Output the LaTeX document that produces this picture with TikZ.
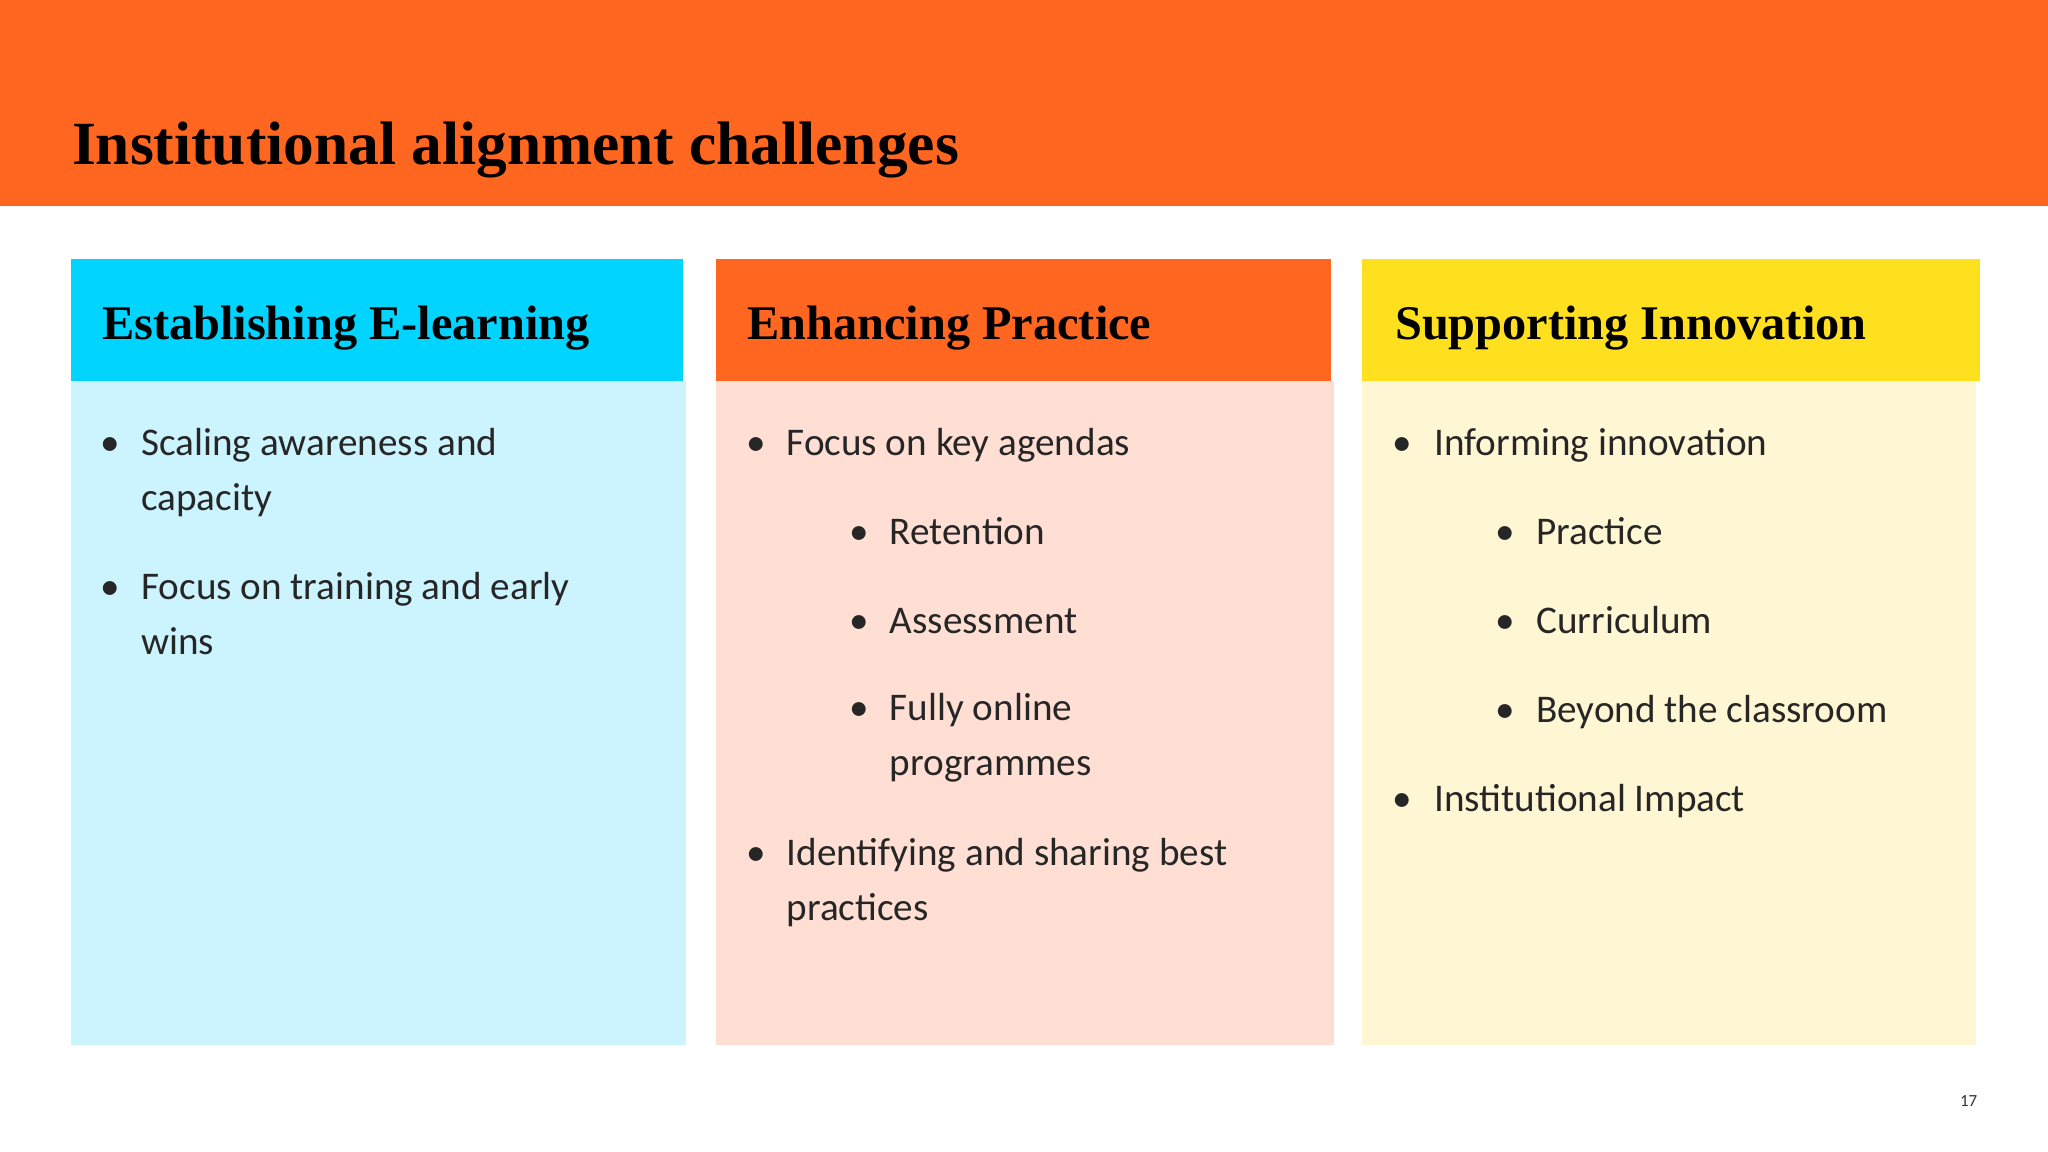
\documentclass[tikz,border=0pt]{standalone}
\usepackage{fontspec}
\setmainfont{Carlito}
\newfontfamily\hfont{Liberation Serif}
\definecolor{orng}{HTML}{FF6720}
\definecolor{cyanh}{HTML}{00D4FF}
\definecolor{cyanb}{HTML}{CCF4FF}
\definecolor{peach}{HTML}{FFDFD3}
\definecolor{yelh}{HTML}{FFE01F}
\definecolor{yelb}{HTML}{FFF6D3}
\begin{document}
\begin{tikzpicture}[x=1pt,y=-1pt,
  txt/.style={anchor=base west,inner sep=0pt,font=\fontsize{30}{36}\selectfont,text=black!85},
  hd/.style={anchor=base west,inner sep=0pt,font=\hfont\bfseries\fontsize{37}{44}\selectfont},
  dot/.style={anchor=base west,inner sep=0pt,font=\fontsize{30}{36}\selectfont,text=black!85}]
\useasboundingbox (0,0) rectangle (1568,882);
\fill[white] (0,0) rectangle (1568,882);
\fill[orng] (0,0) rectangle (1568,158);
\node[anchor=base west,inner sep=0pt,font=\hfont\bfseries\fontsize{47}{56}\selectfont] (title) at (55,126) {Institutional alignment challenges};
% boxes
\fill[cyanb] (54,292) rectangle (525,800);
\fill[cyanh] (54,198) rectangle (523,292);
\fill[peach] (548,292) rectangle (1021,800);
\fill[orng] (548,198) rectangle (1019,292);
\fill[yelb] (1043,292) rectangle (1513,800);
\fill[yelh] (1043,198) rectangle (1516,292);
\node[hd] (h1) at (78,260) {Establishing E-learning};
\node[hd] (h2) at (572,260) {Enhancing Practice};
\node[hd] (h3) at (1068,260) {Supporting Innovation};
% column 1
\node[dot] (b11) at (77,349) {\textbullet};
\node[txt] (t11) at (108,349) {Scaling awareness and};
\node[txt] (t11b) at (108,391) {capacity};
\node[dot] (b12) at (77,459) {\textbullet};
\node[txt] (t12) at (108,459) {Focus on training and early};
\node[txt] (t12b) at (108,501) {wins};
% column 2
\node[dot] (b21) at (571,349) {\textbullet};
\node[txt] (t21) at (602,349) {Focus on key agendas};
\node[dot] (b22) at (650,417) {\textbullet};
\node[txt] (t22) at (681,417) {Retention};
\node[dot] (b23) at (650,485) {\textbullet};
\node[txt] (t23) at (681,485) {Assessment};
\node[dot] (b24) at (650,552) {\textbullet};
\node[txt] (t24) at (681,552) {Fully online};
\node[txt] (t24b) at (681,594) {programmes};
\node[dot] (b25) at (571,663) {\textbullet};
\node[txt] (t25) at (602,663) {Identifying and sharing best};
\node[txt] (t25b) at (602,705) {practices};
% column 3
\node[dot] (b31) at (1066,349) {\textbullet};
\node[txt] (t31) at (1098,349) {Informing innovation};
\node[dot] (b32) at (1145,417) {\textbullet};
\node[txt] (t32) at (1176,417) {Practice};
\node[dot] (b33) at (1145,485) {\textbullet};
\node[txt] (t33) at (1176,485) {Curriculum};
\node[dot] (b34) at (1145,553) {\textbullet};
\node[txt] (t34) at (1176,553) {Beyond the classroom};
\node[dot] (b35) at (1066,621) {\textbullet};
\node[txt] (t35) at (1098,621) {Institutional Impact};
\node[anchor=base east,inner sep=0pt,font=\fontsize{13}{15}\selectfont,text=black!80] (pg) at (1514,847) {17};
\end{tikzpicture}
\end{document}
